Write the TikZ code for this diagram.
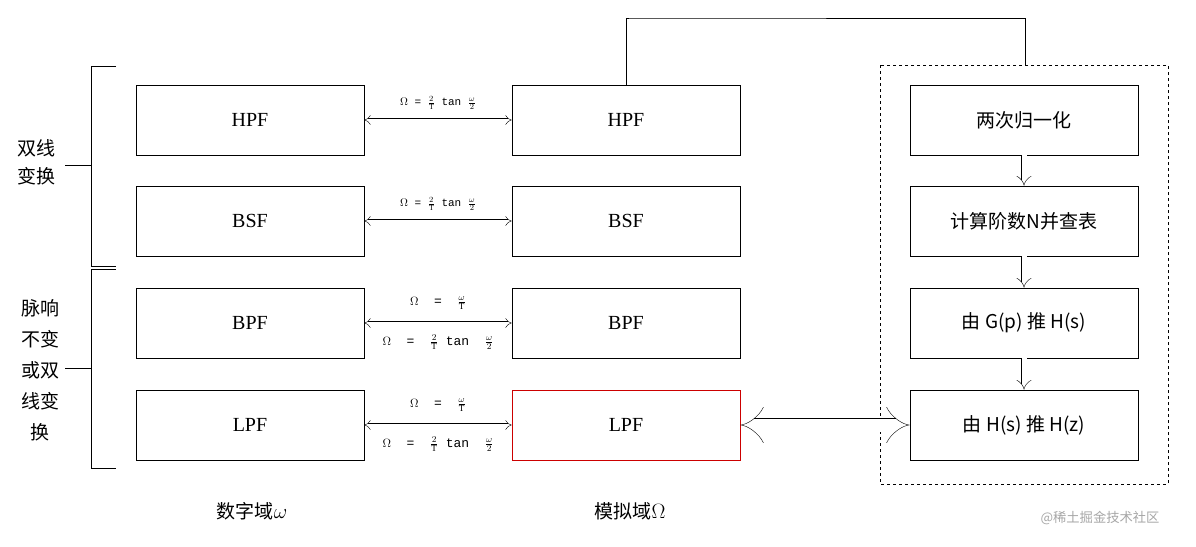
\documentclass[tikz,border=0pt]{standalone}
\usepackage{fontspec}
\setmainfont{Liberation Serif}
\newfontfamily\cjk{Noto Sans CJK SC}[Scale=0.95]
\newfontfamily\fmono{Liberation Mono}
\usetikzlibrary{arrows.meta,positioning}
\begin{document}
\begin{tikzpicture}[x=1pt,y=-1pt,
	blk/.style={draw, thick, minimum width=228pt, minimum height=70pt, font=\fontsize{20}{22}\selectfont},
	conv/.style={double, double distance=3pt, {Implies}-{Implies}},
	dstep/.style={double, double distance=5pt, -{Implies}},
	frm/.style={font=\fmono\fontsize{11}{12}\selectfont, inner sep=1pt},
	frmb/.style={font=\fmono\fontsize{13}{14}\selectfont, inner sep=1pt}]
	\useasboundingbox (0,0) rectangle (1196,546);
	% digital domain
	\node[blk] (dh) at (250,120) {HPF};
	\node[blk] (db) at (250,221) {BSF};
	\node[blk] (dp) at (250,323) {BPF};
	\node[blk] (dl) at (250,425) {LPF};
	% analog domain
	\node[blk] (ah) at (626,120) {HPF};
	\node[blk] (ab) at (626,221) {BSF};
	\node[blk] (ap) at (626,323) {BPF};
	\node[blk, draw=red!80!black] (al) at (626,425) {LPF};
	% design steps
	\node[blk, font=\cjk\fontsize{20}{22}\selectfont] (s1) at (1024,120) {两次归一化};
	\node[blk, font=\cjk\fontsize{20}{22}\selectfont] (s2) at (1024,221) {计算阶数N并查表};
	\node[blk, font=\cjk\fontsize{20}{22}\selectfont] (s3) at (1024,323) {由 G(p) 推 H(s)};
	\node[blk, font=\cjk\fontsize{20}{22}\selectfont] (s4) at (1024,425) {由 H(s) 推 H(z)};
	\draw[dashed] (880,65) rectangle (1168,484);
	\coordinate (top) at (1025,65);
	\draw (ah.north) |- (631,18) -| (top);
	% transforms
	\foreach \a/\b in {dh/ah,db/ab,dp/ap,dl/al}
		\draw[conv] (\a) -- (\b);
	\foreach \a/\b in {s1/s2,s2/s3,s3/s4}
		\draw[dstep] (\a) -- (\b);
	\draw[double, double distance=13pt, {Implies}-{Implies}] (al.east) -- (s4.west);
	\node[frm] (f1) at (438,103) {$\Omega$ = $\frac{2}{\mathrm{T}}$ tan $\frac{\omega}{2}$};
	\node[frm] (f2) at (438,204) {$\Omega$ = $\frac{2}{\mathrm{T}}$ tan $\frac{\omega}{2}$};
	\node[frmb] (f3) at (438,303) {$\Omega$ \ = \ $\frac{\omega}{\mathrm{T}}$};
	\node[frmb] (f4) at (438,342) {$\Omega$ \ = \ $\frac{2}{\mathrm{T}}$ tan \ $\frac{\omega}{2}$};
	\node[frmb] (f5) at (438,405) {$\Omega$ \ = \ $\frac{\omega}{\mathrm{T}}$};
	\node[frmb] (f6) at (438,444) {$\Omega$ \ = \ $\frac{2}{\mathrm{T}}$ tan \ $\frac{\omega}{2}$};
	% brackets
	\draw (116,66) -| (91,266) -- (116,266);
	\draw (116,269) -| (91,468) -- (116,468);
	\node[font=\cjk\fontsize{20}{28}\selectfont, align=center] (g1) at (36,162) {双线\\变换};
	\node[font=\cjk\fontsize{20}{31}\selectfont, align=center] (g2) at (40,370) {脉响\\不变\\或双\\线变\\换};
	\draw (65,165) -- (91,165);
	\draw (65,368) -- (91,368);
	\node[font=\cjk\fontsize{20}{22}\selectfont] (l1) at (252,511) {数字域$\omega$};
	\node[font=\cjk\fontsize{20}{22}\selectfont] (l2) at (630,511) {模拟域$\Omega$};
	\node[font=\cjk\fontsize{14}{16}\selectfont, text=gray!70] (wm) at (1100,518) {@稀土掘金技术社区};
\end{tikzpicture}
\end{document}
